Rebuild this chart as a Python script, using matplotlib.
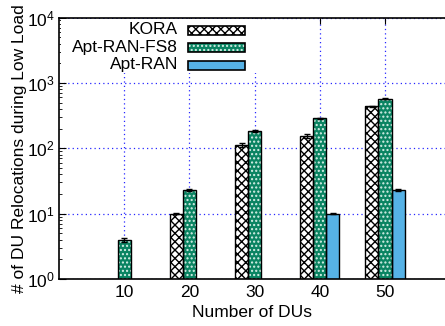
import numpy as np
import matplotlib
matplotlib.use("Agg")
import matplotlib.pyplot as plt
import matplotlib.transforms as mtransforms
from matplotlib.patches import Rectangle

plt.rcParams['font.family'] = ['Liberation Sans', 'DejaVu Sans']
plt.rcParams['mathtext.fontset'] = 'custom'
plt.rcParams['mathtext.rm'] = 'Liberation Sans'
plt.rcParams['mathtext.it'] = 'Liberation Sans'
plt.rcParams['hatch.linewidth'] = 1.0

groups = ["10", "20", "30", "40", "50"]
kora = [0, 10, 113, 154, 437]
kora_err = [0, 0.3, 8, 10, 10]
fs8 = [3.95, 23.2, 181, 286, 571]
fs8_err = [0.25, 1.0, 6, 8, 8]
aptran = [0, 0, 0, 9.9, 23.2]
aptran_err = [0, 0, 0, 0.2, 1.0]
labels = ["KORA", "Apt-RAN-FS8", "Apt-RAN"]

green = "#0a8462"
blue = "#56b2e6"
W, H = 445, 326
FS = 12.5
GH = "...."

fig = plt.figure(figsize=(W / 100, H / 100), dpi=100)
ax = fig.add_axes([59/W, 1 - 279/H, 1 - 59/W, (279 - 17.5)/H])

x = np.arange(1, len(groups) + 1)
w = 0.2

def draw(xs, vals, errs, face, hatch, hcolor):
    vals = np.array(vals, dtype=float)
    m = vals > 0
    ax.bar(xs[m], vals[m], w, bottom=1e-3, color=face, hatch=hatch,
           edgecolor=hcolor, linewidth=0, zorder=3)
    ax.bar(xs[m], vals[m], w, bottom=1e-3, fill=False, edgecolor="black",
           linewidth=1.0, zorder=4)
    ax.errorbar(xs[m], vals[m], yerr=np.array(errs)[m], fmt="none",
                ecolor="black", elinewidth=1, capsize=2.5, capthick=1, zorder=5)

draw(x - w, kora, kora_err, "white", "xxxx", "black")
draw(x, fs8, fs8_err, green, GH, "#d8f0e8")
draw(x + w, aptran, aptran_err, blue, None, blue)

ax.set_yscale("log")
ax.set_ylim(1, 1e4)
ax.set_xlim(0, 5.92)
ax.set_xticks(x)
ax.set_xticklabels(groups, fontsize=FS)
off = mtransforms.ScaledTranslation(9/100, 0, fig.dpi_scale_trans)
for lab in ax.get_xticklabels():
    lab.set_transform(lab.get_transform() + off)
ax.tick_params(axis="x", which="both", direction="in", top=True, bottom=False,
               length=4, pad=4)
ax.tick_params(axis="y", which="major", direction="in", length=5, labelsize=FS, pad=3)
ax.tick_params(axis="y", which="minor", direction="in", length=2.5)
ax.spines["right"].set_visible(False)
for s in ["left", "top", "bottom"]:
    ax.spines[s].set_linewidth(1.2)
    ax.spines[s].set_zorder(8)

ax.grid(True, which="major", color="blue", linestyle=(0, (1, 2.5)), linewidth=0.9,
        alpha=0.85, zorder=1)
ax.set_axisbelow(True)

ax.set_xlabel("Number of DUs", fontsize=FS, labelpad=4)
ax.set_ylabel("# of DU Relocations during Low Load", fontsize=FS, labelpad=0)

# opaque key box (gnuplot style), text right-aligned left of the samples
fig.add_artist(Rectangle((61/W, 1 - 73/H), (257 - 61)/W, (73 - 19)/H,
                         transform=fig.transFigure, facecolor="white",
                         edgecolor="none", zorder=6))
styles = [("white", "xxxx", "black"), (green, GH, "#d8f0e8"), (blue, None, blue)]
for i, (lab, (fc, hat, hc)) in enumerate(zip(labels, styles)):
    yc = 30 + 17.5 * i
    fig.add_artist(Rectangle((188/W, 1 - (yc + 4.5)/H), 57/W, 9/H,
                             transform=fig.transFigure, facecolor=fc, hatch=hat,
                             edgecolor=hc, linewidth=0, zorder=7))
    fig.add_artist(Rectangle((188/W, 1 - (yc + 4.5)/H), 57/W, 9/H,
                             transform=fig.transFigure, fill=False,
                             edgecolor="black", linewidth=1.2, zorder=7))
    fig.text(178/W, 1 - yc/H, lab, ha="right", va="center", fontsize=FS, zorder=7)

fig.savefig("out.png", dpi=100)
